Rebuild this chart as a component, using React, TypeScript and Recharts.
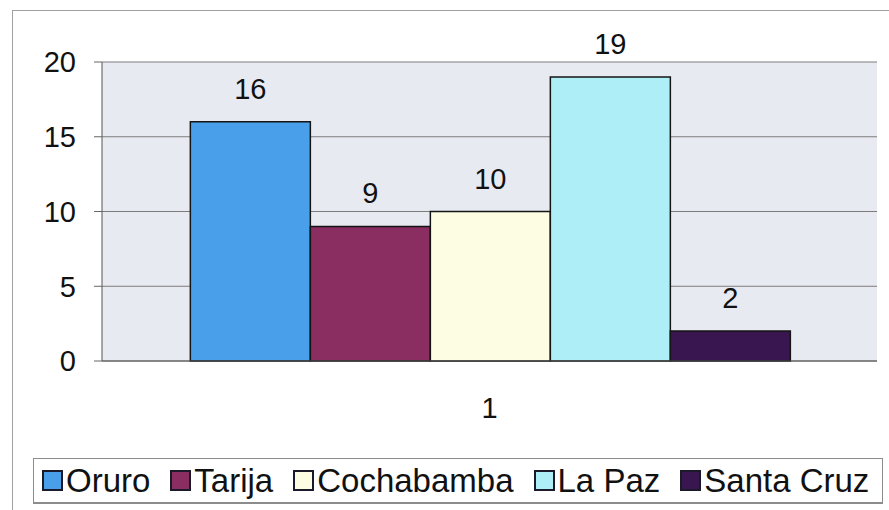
import { BarChart, Bar, XAxis, YAxis, CartesianGrid, Legend, LabelList } from "recharts";

const categories = ["1"];
const seriesNames = ["Oruro", "Tarija", "Cochabamba", "La Paz", "Santa Cruz"];
const seriesValues = [16, 9, 10, 19, 2];
const seriesColors = ["#4a9fea", "#8a2d60", "#fdfde4", "#aeeef6", "#3a1650"];
const yTicks = [0, 5, 10, 15, 20];

const chartData = categories.map((name) => {
  const row: Record<string, string | number> = { name };
  seriesNames.forEach((s, i) => {
    row[s] = seriesValues[i];
  });
  return row;
});

const LegendBox = () => (
  <div
    style={{
      boxSizing: "border-box",
      height: 46,
      width: 850,
      borderTop: "1px solid #8c8c8c",
      borderLeft: "1px solid #8c8c8c",
      borderRight: "1px solid #8c8c8c",
      borderBottom: "2px solid #8c8c8c",
      display: "flex",
      alignItems: "center",
      paddingLeft: 8,
      gap: 20,
      fontSize: 33,
      lineHeight: "38px",
      color: "#111",
      whiteSpace: "nowrap",
      overflow: "hidden",
    }}
  >
    {seriesNames.map((s, i) => (
      <div key={s} style={{ display: "flex", alignItems: "center" }}>
        <span
          style={{
            display: "inline-block",
            width: 17,
            height: 17,
            border: "2px solid #1a1a2a",
            background: seriesColors[i],
            marginRight: 3,
          }}
        />
        <span>{s}</span>
      </div>
    ))}
  </div>
);

const App = () => {
  return (
    <div
      style={{
        position: "absolute",
        left: 0,
        top: 0,
        width: 889,
        height: 510,
        background: "#fff",
        overflow: "hidden",
        fontFamily: "Arial, 'Liberation Sans', sans-serif",
      }}
    >
      <div
        style={{
          position: "absolute",
          left: 12,
          top: 10,
          width: 900,
          height: 520,
          borderLeft: "1px solid #a0a0a0",
          borderTop: "1px solid #a0a0a0",
        }}
      />
      <BarChart
        width={889}
        height={510}
        data={chartData}
        margin={{ top: 62, right: 12, left: 0, bottom: 6 }}
        barCategoryGap="11.4%"
        barGap={0}
      >
        <CartesianGrid vertical={false} stroke="#7c7c7c" fill="#e8eaf1" />
        <XAxis
          dataKey="name"
          height={97}
          tickLine={false}
          tickMargin={30}
          axisLine={{ stroke: "#555" }}
          tick={{ fontSize: 29, fill: "#111" }}
        />
        <YAxis
          width={102}
          domain={[0, 20]}
          ticks={yTicks}
          tickSize={8}
          tickMargin={18}
          axisLine={{ stroke: "#555" }}
          tickLine={{ stroke: "#666" }}
          tick={{ fontSize: 29, fill: "#111" }}
        />
        <YAxis
          yAxisId="r"
          orientation="right"
          width={0}
          tick={false}
          tickLine={false}
          axisLine={{ stroke: "#9a9a9a" }}
        />
        {seriesNames.map((s, i) => (
          <Bar
            key={s}
            dataKey={s}
            fill={seriesColors[i]}
            stroke="#141414"
            strokeWidth={1.5}
            isAnimationActive={false}
          >
            <LabelList dataKey={s} position="top" offset={23} fontSize={29} fill="#111" />
          </Bar>
        ))}
        <Legend
          verticalAlign="bottom"
          content={() => <LegendBox />}
          wrapperStyle={{ left: 33, width: 850, top: 458, bottom: "auto", height: 46 }}
        />
      </BarChart>
    </div>
  );
};

export default App;
